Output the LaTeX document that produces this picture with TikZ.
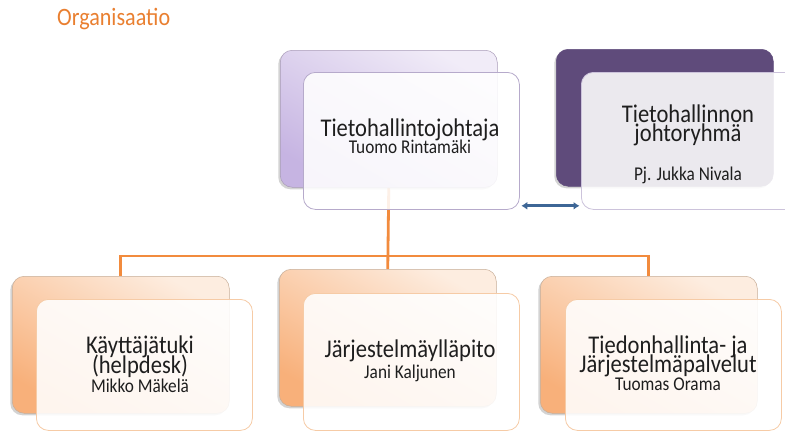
\documentclass[tikz,border=0pt]{standalone}
\usepackage{fontspec}
\setmainfont[FakeStretch=0.885]{Carlito}
\usetikzlibrary{shadows,backgrounds,arrows.meta}
\definecolor{titleorange}{HTML}{E97F30}
\definecolor{lineorange}{HTML}{F28B3D}
\definecolor{purpletop}{HTML}{F1ECF8}
\definecolor{purplebot}{HTML}{C6B4E2}
\definecolor{darkpurple}{HTML}{5F4B7B}
\definecolor{orangetop}{HTML}{FDEDE0}
\definecolor{orangebot}{HTML}{F8B07A}
\definecolor{purpleedge}{HTML}{B6AACB}
\definecolor{orangeedge}{HTML}{F6CBA6}
\definecolor{backedge}{HTML}{A99BB8}
\definecolor{arrowblue}{HTML}{3D6696}
\definecolor{textdark}{HTML}{1E1E1E}
\newcommand{\ctrline}[1]{\hbox to 0pt{\hss#1\hss}}
\newcommand{\subtxt}{\fontsize{19.5}{20}\selectfont}
\newcommand{\stacktxt}[1]{\vtop{\baselineskip=20pt\lineskiplimit=-100pt\lineskip=0pt #1}}
\begin{document}
\begin{tikzpicture}[x=1pt,y=-1pt,
  backbox/.style={rounded corners=12pt, anchor=north west, inner sep=0pt,
    minimum width=217pt, minimum height=137pt, draw=#1, line width=0.5pt,
    drop shadow={shadow xshift=-2pt, shadow yshift=-2pt, opacity=0.35}},
  frontbox/.style={rounded corners=12pt, anchor=north west, inner sep=0pt,
    minimum width=216pt, minimum height=137pt, draw=#1, line width=0.8pt,
    fill=white, fill opacity=0.88},
  boxtext/.style={anchor=base, inner sep=0pt, text=textdark, font=\fontsize{25.5}{20}\selectfont},
  connector/.style={draw=lineorange, line width=2.8pt},
]
\useasboundingbox (0,0) rectangle (785,432);
\path[clip] (0,0) rectangle (785,432);

\node[anchor=base west, inner sep=0pt, text=titleorange, font=\fontsize{25}{26}\selectfont] (title) at (57,25) {Organisaatio};

% back boxes
\node[backbox=backedge, top color=purpletop, bottom color=purplebot, shading angle=-30] (tb) at (280,50) {};
\node[backbox=darkpurple, fill=darkpurple] (rb) at (556,49) {};
\node[backbox=orangeedge!60!gray, top color=orangetop, bottom color=orangebot, shading angle=-30] (b1b) at (12,276) {};
\node[backbox=orangeedge!60!gray, top color=orangetop, bottom color=orangebot, shading angle=-30] (b2b) at (279,269) {};
\node[backbox=orangeedge!60!gray, top color=orangetop, bottom color=orangebot, shading angle=-30] (b3b) at (540,276) {};

% connectors behind
\begin{scope}[on background layer]
\draw[connector] (tb.south) -- (b2b.north);
\draw[connector] (b1b.north) -- ++(0,-20) -| (b3b.north);
\end{scope}

% front boxes
\node[frontbox=purpleedge] (tf) at (303,72) {};
\node[frontbox=purpleedge!70] (rf) at (581,72) {};
\node[frontbox=orangeedge, minimum height=131pt] (b1f) at (36,299) {};
\node[frontbox=orangeedge] (b2f) at (303,293) {};
\node[frontbox=orangeedge, minimum height=131pt] (b3f) at (565,299) {};

% texts
\node[boxtext] (t1) at (410,136) {\stacktxt{%
  \ctrline{Tietohallintojohtaja}\kern-3pt
  \ctrline{\subtxt Tuomo Rintamäki}}};

\node[boxtext] (t2) at (688,122) {\stacktxt{%
  \ctrline{Tietohallinnon}\kern-1pt
  \ctrline{johtoryhmä}\kern19pt
  \ctrline{\subtxt Pj. Jukka Nivala}}};

\node[boxtext] (t3) at (140,353) {\stacktxt{%
  \ctrline{Käyttäjätuki}
  \ctrline{(helpdesk)}\kern-1pt
  \ctrline{\subtxt Mikko Mäkelä}}};

\node[boxtext] (t4) at (410,357) {\stacktxt{%
  \ctrline{Järjestelmäylläpito}\kern1pt
  \ctrline{\subtxt Jani Kaljunen}}};

\node[boxtext] (t5) at (668,353) {\stacktxt{%
  \ctrline{Tiedonhallinta- ja}\kern-1pt
  \ctrline{Järjestelmäpalvelut}\kern-2pt
  \ctrline{\subtxt Tuomas Orama}}};

% double arrow
\draw[arrowblue, line width=3pt, {Latex[length=6pt,width=8pt]}-{Latex[length=6pt,width=8pt]}, shorten <=1.5pt, shorten >=1.5pt]
  ([yshift=4pt]tf.south east) -- ([yshift=4pt]rf.south west);
\end{tikzpicture}
\end{document}
